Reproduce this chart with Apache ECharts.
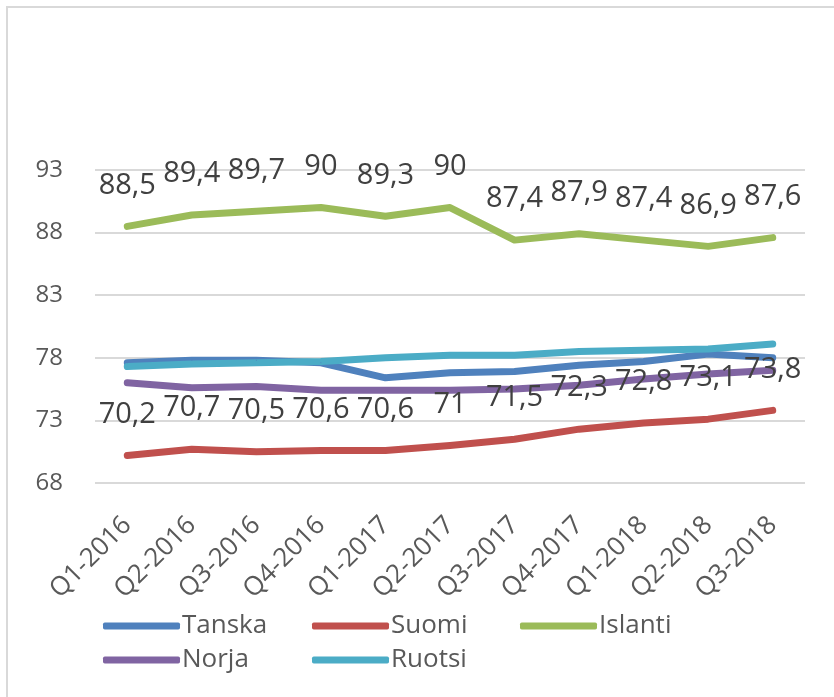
<!DOCTYPE html>
<html>
<head>
<meta charset="utf-8">
<script src="https://cdn.jsdelivr.net/npm/echarts@6/dist/echarts.min.js"></script>
<style>
  html, body { margin: 0; padding: 0; background: #fff; }
  #chart { width: 834px; height: 697px; }
</style>
</head>
<body>
<div id="chart"></div>
<script>
const quarters = ['Q1-2016', 'Q2-2016', 'Q3-2016', 'Q4-2016', 'Q1-2017', 'Q2-2017',
  'Q3-2017', 'Q4-2017', 'Q1-2018', 'Q2-2018', 'Q3-2018']
const tanska = [77.6, 77.8, 77.8, 77.6, 76.4, 76.8, 76.9, 77.4, 77.7, 78.3, 78.0]
const suomi = [70.2, 70.7, 70.5, 70.6, 70.6, 71, 71.5, 72.3, 72.8, 73.1, 73.8]
const islanti = [88.5, 89.4, 89.7, 90, 89.3, 90, 87.4, 87.9, 87.4, 86.9, 87.6]
const norja = [76.0, 75.6, 75.7, 75.4, 75.4, 75.4, 75.5, 75.8, 76.3, 76.7, 77.0]
const ruotsi = [77.3, 77.5, 77.6, 77.7, 78.0, 78.2, 78.2, 78.5, 78.6, 78.7, 79.1]

const font = 'Open Sans, sans-serif'

const labelStyle = {
  show: true,
  position: 'top',
  distance: 26,
  color: '#404040',
  fontSize: 29,
  fontFamily: font,
  formatter: (p) => String(p.value).replace('.', ','),
}

const line = (name, data, color, withLabels) => ({
  name,
  type: 'line',
  data,
  symbol: 'circle',
  symbolSize: 1,
  showSymbol: true,
  lineStyle: { width: 7, color, cap: 'round', join: 'round' },
  itemStyle: { color },
  label: withLabels ? labelStyle : { show: false },
  labelLayout: { hideOverlap: false },
  emphasis: { disabled: true },
  z: withLabels ? 3 : 2,
})

const legendBase = {
  orient: 'vertical',
  top: 608,
  itemWidth: 77,
  itemHeight: 7,
  itemGap: 8,
  icon: 'roundRect',
  textStyle: { color: '#595959', fontSize: 26, fontFamily: font, padding: [0, 0, 0, -3] },
}

const chart = echarts.init(document.getElementById('chart'))
chart.setOption({
  animation: false,
  graphic: [
    {
      type: 'rect',
      shape: { x: 7, y: 7, width: 900, height: 800 },
      style: { fill: 'none', stroke: '#d9d9d9', lineWidth: 2 },
    },
  ],
  grid: { left: 95, right: 29, top: 170, bottom: 214 },
  legend: [
    { ...legendBase, left: 98, data: ['Tanska', 'Norja'] },
    { ...legendBase, left: 307, data: ['Suomi', 'Ruotsi'] },
    { ...legendBase, left: 515, data: ['Islanti'] },
  ],
  xAxis: {
    type: 'category',
    data: quarters,
    boundaryGap: true,
    axisLine: { show: false },
    axisTick: { show: false },
    axisLabel: {
      rotate: 45,
      margin: 38,
      interval: 0,
      color: '#595959',
      fontSize: 26,
      fontFamily: font,
    },
  },
  yAxis: {
    type: 'value',
    min: 68,
    max: 93,
    interval: 5,
    axisLine: { show: false },
    axisTick: { show: false },
    axisLabel: { color: '#595959', fontSize: 24, fontFamily: font, margin: 32 },
    splitLine: { lineStyle: { color: '#d9d9d9', width: 2 } },
  },
  series: [
    line('Tanska', tanska, '#4f81bd', false),
    line('Suomi', suomi, '#c0504d', true),
    line('Islanti', islanti, '#9bbb59', true),
    line('Norja', norja, '#8064a2', false),
    line('Ruotsi', ruotsi, '#4bacc6', false),
  ],
})
</script>
</body>
</html>
